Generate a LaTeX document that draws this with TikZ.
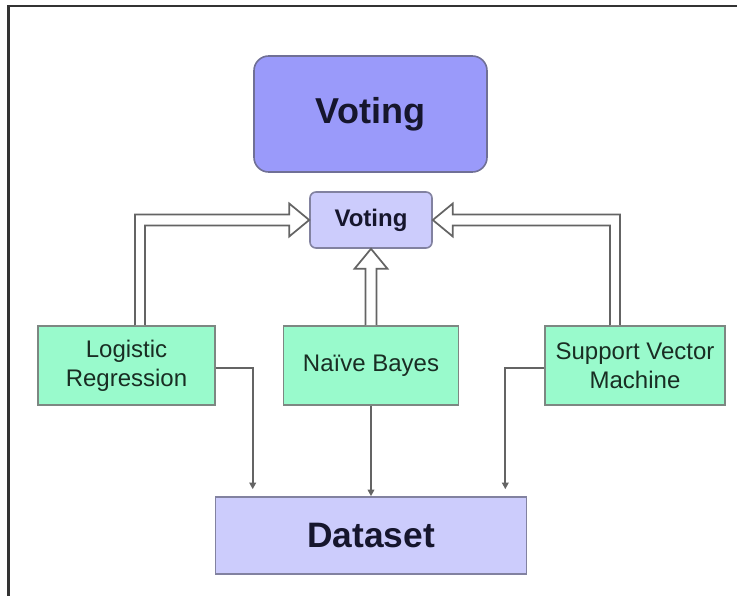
\documentclass[tikz,border=0pt]{standalone}
\usepackage{fontspec}
\setmainfont{Liberation Sans}
\usetikzlibrary{calc,arrows.meta}

\definecolor{topfill}{RGB}{154,154,250}
\definecolor{topdraw}{RGB}{112,112,150}
\definecolor{lavfill}{RGB}{204,204,252}
\definecolor{lavdraw}{RGB}{130,130,160}
\definecolor{mintfill}{RGB}{153,250,204}
\definecolor{mintdraw}{RGB}{125,135,130}
\definecolor{linegray}{RGB}{100,100,100}
\definecolor{inkdark}{RGB}{22,22,45}
\definecolor{inkgreen}{RGB}{25,45,35}

\tikzset{
  titlebox/.style={draw=topdraw, line width=1.2pt, fill=topfill, rounded corners=11pt,
    minimum width=174.75pt, minimum height=87pt, inner sep=0pt,
    font=\fontsize{27}{31}\selectfont\bfseries, text=inkdark},
  votebox/.style={draw=lavdraw, line width=1.2pt, fill=lavfill, rounded corners=4.5pt,
    minimum width=91.5pt, minimum height=42pt, inner sep=0pt,
    font=\fontsize{18}{21}\selectfont\bfseries, text=inkdark},
  modelbox/.style={draw=mintdraw, line width=1.2pt, fill=mintfill,
    minimum height=59.25pt, inner sep=0pt, align=center,
    font=\fontsize{18}{21.75}\selectfont, text=inkgreen},
  databox/.style={draw=lavdraw, line width=1.2pt, fill=lavfill,
    minimum width=233.25pt, minimum height=57.75pt, inner sep=0pt,
    font=\fontsize{26.5}{30}\selectfont\bfseries, text=inkdark},
  hollowarrow/.style={draw=linegray, line width=1.3pt, fill=white, line join=miter},
  feedarrow/.style={draw=linegray, line width=1.3pt, -{Triangle[length=5pt,width=5pt]}},
  frameline/.style={draw=black!80, line width=1.6pt}
}

\begin{document}
\begin{tikzpicture}[x=0.75pt, y=-0.75pt]
  \useasboundingbox (0,0) rectangle (737,596);

  % outer frame (top and left edges)
  \draw[frameline] (737,6) -- (8.5,6) -- (8.5,596);

  % boxes
  \node[titlebox] (vtop) at (370.5,114) {Voting};
  \node[votebox]  (vote) at (371,220) {Voting};
  \node[modelbox, minimum width=132.75pt] (lr)  at (126.5,365.5) {Logistic\\Regression};
  \node[modelbox, minimum width=131.25pt] (nb)  at (371,365.5) {Naïve Bayes};
  \node[modelbox, minimum width=135pt]    (svm) at (635,365.5) {Support Vector\\Machine};
  \node[databox]  (data) at (371,535.5) {Dataset};

  % hollow block arrows from the classifiers into the vote
  \draw[hollowarrow] ($(lr.north)+(8.5,0)$) |- ($(vote.west)+(-20,-5.5)$)
     -- ++(0,-11) -- (vote.west) -- ($(vote.west)+(-20,16.5)$) -- ++(0,-11)
     -| ($(lr.north)+(18.5,0)$);
  \draw[hollowarrow] ($(nb.north)+(-5.5,0)$) -- ($(vote.south)+(-5.5,20)$)
     -- ++(-11,0) -- (vote.south) -- ($(vote.south)+(16.5,20)$) -- ++(-11,0)
     -- ($(nb.north)+(5.5,0)$);
  \draw[hollowarrow] ($(svm.north)+(-15,0)$) |- ($(vote.east)+(20,-5.5)$)
     -- ++(0,-11) -- (vote.east) -- ($(vote.east)+(20,16.5)$) -- ++(0,-11)
     -| ($(svm.north)+(-25,0)$);

  % thin arrows down to the dataset
  \draw[feedarrow] ($(lr.east)+(0,2.5)$) -| ($(data.north west)+(38,-7)$);
  \draw[feedarrow] (nb.south) -- (data.north);
  \draw[feedarrow] ($(svm.west)+(0,2.5)$) -| ($(data.north east)+(-22,-7)$);
\end{tikzpicture}
\end{document}
